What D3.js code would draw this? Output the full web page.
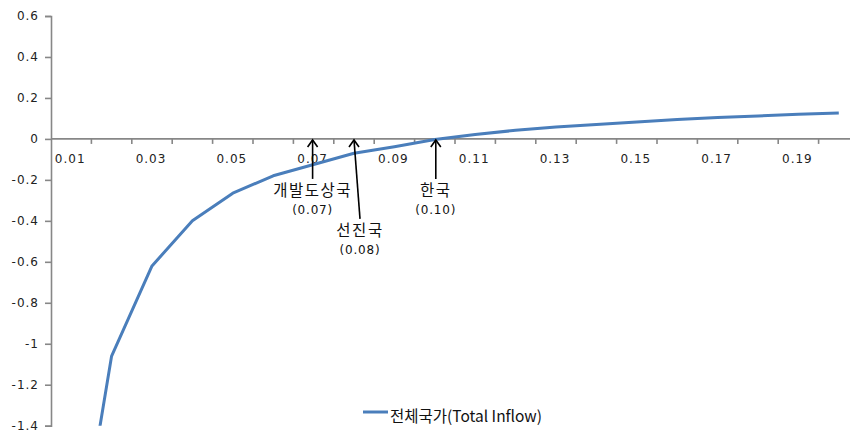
<!DOCTYPE html>
<html><head><meta charset="utf-8">
<script src="https://cdn.jsdelivr.net/npm/d3@7"></script>
<style>
body{margin:0;background:#fff;}
svg{display:block;}
</style></head>
<body>
<svg id="c" width="850" height="433"></svg>
<script>
const categories = ["0.01","0.02","0.03","0.04","0.05","0.06","0.07","0.08","0.09","0.10",
  "0.11","0.12","0.13","0.14","0.15","0.16","0.17","0.18","0.19","0.20"];
const seriesName = "전체국가(Total Inflow)";
const values = [-2.25,-1.06,-0.62,-0.40,-0.265,-0.18,-0.125,-0.07,-0.038,-0.003,
  0.022,0.042,0.058,0.07,0.083,0.095,0.104,0.112,0.12,0.127];
const yTicks = [0.6,0.4,0.2,0,-0.2,-0.4,-0.6,-0.8,-1,-1.2,-1.4];
const yTickLabels = ["0.6","0.4","0.2","0","-0.2","-0.4","-0.6","-0.8","-1","-1.2","-1.4"];
const xTickLabels = ["0.01","0.03","0.05","0.07","0.09","0.11","0.13","0.15","0.17","0.19"];
const annCats = ["0.07","0.08","0.10"];
const annNames = ["개발도상국","선진국","한국"];
const annValues = ["(0.07)","(0.08)","(0.10)"];
const annDrop = [40, 80, 40];
const annShift = [-1, 6, 1];

(function(){
const svg = d3.select("#c");
const pLeft = 51, bandW = 40.4, pTop = 16, pBottom = 425.7;
const x = d3.scaleBand().domain(categories).range([pLeft, pLeft + bandW*categories.length]).padding(0);
const y = d3.scaleLinear().domain([-1.4, 0.6]).range([pBottom, pTop]);
const axisColor = "#878787";
const fontNum = "'DejaVu Sans', Verdana, sans-serif";
const fontKr = "'Noto Sans CJK KR', sans-serif";

svg.append("defs").append("clipPath").attr("id","clip")
  .append("rect").attr("x", pLeft).attr("y", pTop-2).attr("width", bandW*20).attr("height", pBottom-pTop+2);

// Y axis
const ya = svg.append("g").attr("transform", `translate(${pLeft},0)`)
  .call(d3.axisLeft(y).tickValues(yTicks).tickSize(6).tickPadding(6)
    .tickFormat((d,i)=>yTickLabels[i]));
ya.select(".domain").attr("stroke", axisColor).attr("stroke-width", 1.6);
ya.selectAll(".tick line").attr("stroke", axisColor).attr("stroke-width", 1.6);
ya.selectAll(".tick text").attr("font-family", fontNum).attr("font-size", 12)
  .attr("fill", "#222").attr("letter-spacing", "1px");

// X axis at y=0
const y0 = y(0);
const xa = svg.append("g").attr("transform", `translate(0,${y0})`)
  .call(d3.axisBottom(x).tickValues(xTickLabels).tickSize(0).tickPadding(16));
xa.select(".domain").remove();
xa.selectAll(".tick text").attr("font-family", fontNum).attr("font-size", 12)
  .attr("fill", "#222").attr("letter-spacing", "1px").attr("dx", "-1");
svg.append("line").attr("x1", pLeft).attr("x2", x.range()[1]).attr("y1", y0).attr("y2", y0)
  .attr("stroke", axisColor).attr("stroke-width", 1.6);
svg.selectAll("line.xt").data(categories.slice(1).concat(["end"])).join("line").attr("class","xt")
  .attr("x1", d => d==="end" ? x.range()[1] : x(d))
  .attr("x2", d => d==="end" ? x.range()[1] : x(d))
  .attr("y1", y0).attr("y2", y0+5).attr("stroke", axisColor).attr("stroke-width", 1.6);

// Series line
const line = d3.line().x((d,i)=>x(categories[i]) + x.bandwidth()/2).y(d=>y(d));
svg.append("path").datum(values).attr("clip-path","url(#clip)")
  .attr("d", line).attr("fill","none").attr("stroke","#4a7ebb").attr("stroke-width", 3)
  .attr("stroke-linejoin","round");

// Annotations
const ann = svg.append("g");
annCats.forEach((c,i)=>{
  const tx = x(c) + x.bandwidth()/2 + annShift[i]*0 + (i===0?-1:(i===2?1:0));
  const bx = tx + (i===1 ? annShift[i] : 0);
  const by = y0 + annDrop[i];
  ann.append("line").attr("x1", bx).attr("y1", by).attr("x2", tx).attr("y2", y0+1)
    .attr("stroke","#000").attr("stroke-width",1.6);
  ann.append("path").attr("d", `M${tx-5},${y0+8} L${tx},${y0+1} L${tx+5},${y0+8}`)
    .attr("fill","none").attr("stroke","#000").attr("stroke-width",1.6);
  ann.append("text").attr("x", bx).attr("y", by+17).attr("text-anchor","middle")
    .attr("font-family", fontKr).attr("font-size", 15.5).attr("letter-spacing","1.5px")
    .attr("fill","#111").text(annNames[i]);
  ann.append("text").attr("x", bx).attr("y", by+35).attr("text-anchor","middle")
    .attr("font-family", fontNum).attr("font-size", 12).attr("letter-spacing","0.8px")
    .attr("fill","#111").text(annValues[i]);
});

// Legend
const lg = svg.append("g");
lg.append("line").attr("x1", 363).attr("x2", 388).attr("y1", 412).attr("y2", 412)
  .attr("stroke","#4a7ebb").attr("stroke-width",3);
lg.append("text").attr("x", 390).attr("y", 422).attr("font-family", fontKr)
  .attr("font-size", 15.5).attr("fill","#111").text(seriesName);
})();
</script>
</body></html>
